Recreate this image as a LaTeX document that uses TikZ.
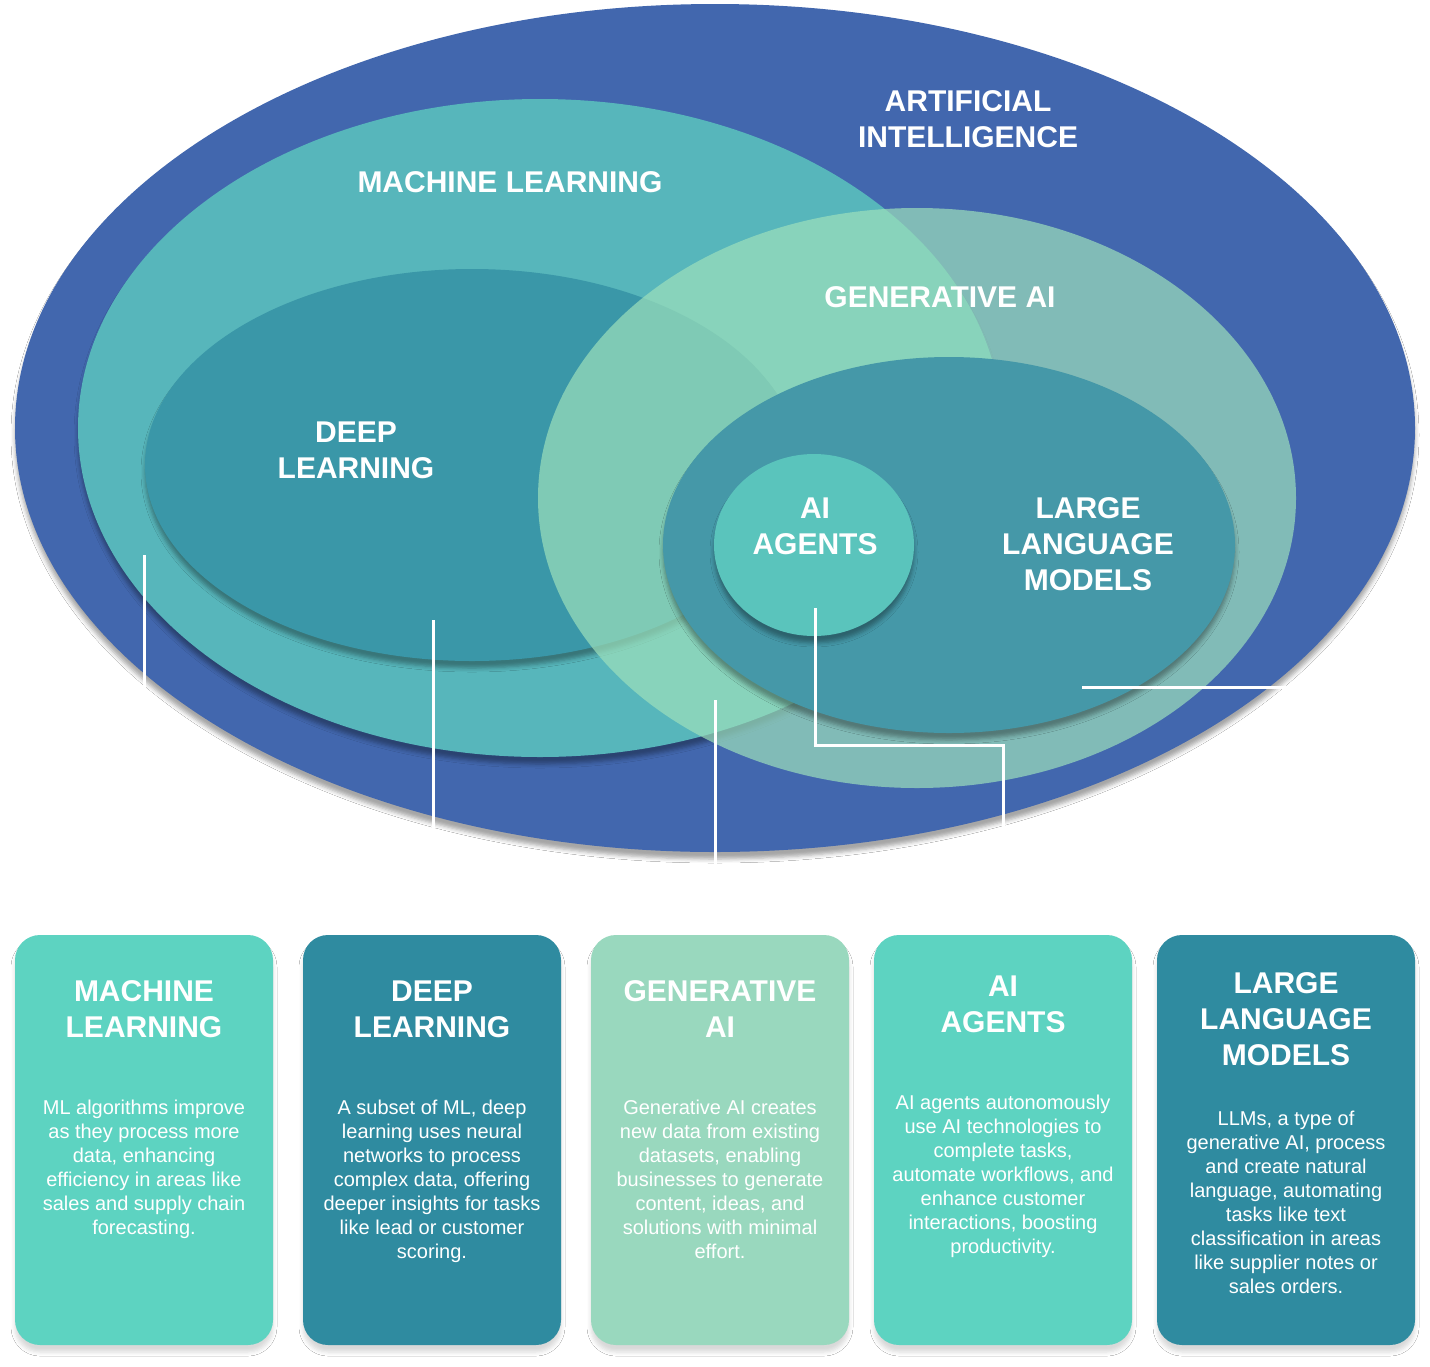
\documentclass[tikz,border=0pt]{standalone}
\usepackage{fontspec}
\setmainfont{Liberation Sans}
\usepackage{tikz}
\usetikzlibrary{shadows.blur}
\definecolor{aiblue}{RGB}{66,103,174}
\definecolor{mlteal}{RGB}{87,182,187}
\definecolor{dlteal}{RGB}{58,151,168}
\definecolor{genmint}{RGB}{157,224,187}
\definecolor{llmteal}{RGB}{69,152,168}
\definecolor{agentteal}{RGB}{90,196,188}
\definecolor{boxlight}{RGB}{93,211,193}
\definecolor{boxdark}{RGB}{47,139,160}
\definecolor{boxmint}{RGB}{153,216,190}

\begin{document}
\begin{tikzpicture}[x=0.5pt,y=-0.5pt,
  soft/.style={blur shadow={shadow xshift=0pt,shadow yshift=-3.5pt,shadow blur radius=2pt,shadow opacity=35}},
  title/.style={text=white,font=\bfseries\fontsize{15}{18}\selectfont,align=center,inner sep=0pt},
  body/.style={text=white,font=\fontsize{10}{12}\selectfont,align=center,inner sep=0pt,anchor=north},
  card/.style={rounded corners=12.5pt,minimum width=129pt,minimum height=205pt,inner sep=0pt,
    blur shadow={shadow xshift=0pt,shadow yshift=-3.5pt,shadow blur radius=2pt,shadow opacity=15}},
  pin/.style={white,line width=1.5pt}]
\useasboundingbox (0,0) rectangle (1430,1366);
\fill[white] (0,0) rectangle (1430,1366);
\fill[aiblue,soft] (715,428) ellipse [x radius=700,y radius=424];
\fill[mlteal,soft] (540,428) ellipse [x radius=462,y radius=329];
\fill[dlteal,soft] (472,465) ellipse [x radius=327,y radius=196];
\fill[genmint,fill opacity=0.7] (917,498) ellipse [x radius=379,y radius=290];
\fill[llmteal,soft] (949,545) ellipse [x radius=286,y radius=188];
\fill[agentteal,soft] (814,545) ellipse [x radius=100,y radius=91];
\node[title] (ailbl) at (968,119) {ARTIFICIAL\\INTELLIGENCE};
\node[title] (mllbl) at (510,182) {MACHINE LEARNING};
\node[title] (genlbl) at (940,297) {GENERATIVE AI};
\node[title] (dllbl) at (356,450) {DEEP\\LEARNING};
\node[title] (agentlbl) at (815,526) {AI\\AGENTS};
\node[title] (llmlbl) at (1088,544) {LARGE\\LANGUAGE\\MODELS};
\coordinate (mlpin) at (144,555);
\coordinate (dlpin) at (433,620);
\coordinate (genpin) at (715,700);
\coordinate (agentpin) at (815,608);
\coordinate (agentbend) at (1003,745);
\coordinate (llmpin) at (1082,687);
\node[card,fill=boxlight] (mlbox) at (144,1140) {};
\node[card,fill=boxdark] (dlbox) at (432,1140) {};
\node[card,fill=boxmint] (genbox) at (720,1140) {};
\node[card,fill=boxlight] (agentbox) at (1003,1140) {};
\node[card,fill=boxdark] (llmbox) at (1286,1140) {};
\draw[pin] (mlpin) -- (mlbox.north);
\draw[pin] (dlpin) -- (dlpin |- dlbox.north);
\draw[pin] (genpin) -- (genpin |- genbox.north);
\draw[pin] (agentpin) |- (agentbend) -- (agentbox.north);
\draw[pin] (llmpin) -| (llmbox.north);
\node[title] (mltitle) at (144,1009.5) {MACHINE\\LEARNING};
\node[body] (mltext) at (144,1100) {ML algorithms improve\\as they process more\\data, enhancing\\efficiency in areas like\\sales and supply chain\\forecasting.};
\node[title] (dltitle) at (432,1009.5) {DEEP\\LEARNING};
\node[body] (dltext) at (432,1100) {A subset of ML, deep\\learning uses neural\\networks to process\\complex data, offering\\deeper insights for tasks\\like lead or customer\\scoring.};
\node[title] (gentitle) at (720,1009.5) {GENERATIVE\\AI};
\node[body] (gentext) at (720,1100) {Generative AI creates\\new data from existing\\datasets, enabling\\businesses to generate\\content, ideas, and\\solutions with minimal\\effort.};
\node[title] (agenttitle) at (1003,1004.5) {AI\\AGENTS};
\node[body] (agenttext) at (1003,1095) {AI agents autonomously\\use AI technologies to\\complete tasks,\\automate workflows, and\\enhance customer\\interactions, boosting\\productivity.};
\node[title] (llmtitle) at (1286,1019) {LARGE\\LANGUAGE\\MODELS};
\node[body] (llmtext) at (1286,1111) {LLMs, a type of\\generative AI, process\\and create natural\\language, automating\\tasks like text\\classification in areas\\like supplier notes or\\sales orders.};
\end{tikzpicture}
\end{document}
